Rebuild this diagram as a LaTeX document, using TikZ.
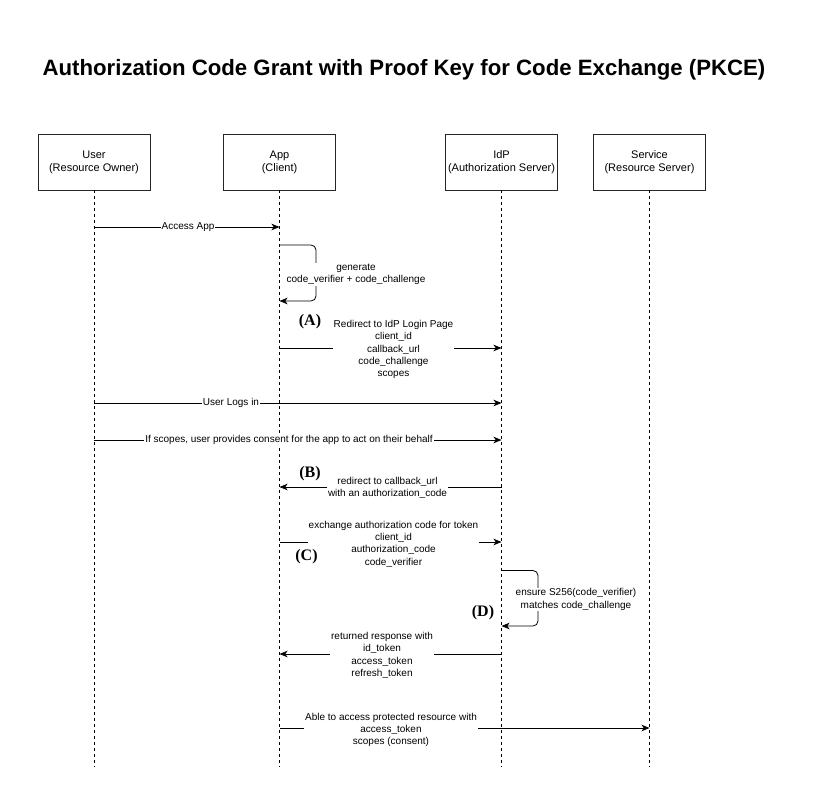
\documentclass[tikz,border=0pt]{standalone}
\usepackage{fontspec}
\setmainfont{Liberation Sans}
\newfontfamily\letterfont{Liberation Serif}
\usetikzlibrary{arrows.meta}
\begin{document}
\begin{tikzpicture}[x=1pt,y=-1pt,
  actor/.style={draw=black!85, line width=0.9pt, minimum width=112pt, minimum height=56pt,
    align=center, font=\fontsize{11}{13}\selectfont, inner sep=0pt},
  life/.style={line width=0.8pt, dash pattern=on 3pt off 3pt},
  msg/.style={line width=0.8pt, -{Stealth[length=8pt,width=6.5pt,inset=2.2pt]}},
  lbl/.style={fill=white, inner sep=1pt, align=center, font=\fontsize{10}{12.3}\selectfont},
  tag/.style={font=\letterfont\bfseries\fontsize{16}{18}\selectfont, inner sep=0pt}]
\useasboundingbox (0,0) rectangle (829,800);
\fill[white] (0,0) rectangle (829,800);

\node[font=\bfseries\fontsize{22.2}{26}\selectfont] (title) at (404,70) {Authorization Code Grant with Proof Key for Code Exchange (PKCE)};

\node[actor] (user) at (94,162) {User\\(Resource Owner)};
\node[actor] (app) at (279.5,162) {App\\(Client)};
\node[actor] (idp) at (501.5,162) {IdP\\(Authorization Server)};
\node[actor] (svc) at (649.5,162) {Service\\(Resource Server)};

\coordinate (userE) at (94,767);
\coordinate (appE) at (279.5,767);
\coordinate (idpE) at (501.5,767);
\coordinate (svcE) at (649.5,767);
\draw[life] (user.south) -- (userE);
\draw[life] (app.south) -- (appE);
\draw[life] (idp.south) -- (idpE);
\draw[life] (svc.south) -- (svcE);

% messages
\coordinate (m1a) at (94,227);   \coordinate (m1b) at (279.5,227);
\draw[msg] (m1a) -- (m1b);
\node[lbl] (l1) at (188,227) {Access App};

\coordinate (m2a) at (279.5,245); \coordinate (m2b) at (279.5,301);
\draw[msg, rounded corners=5pt] (m2a) -- (316,245) -- (316,301) -- (m2b);
\node[lbl] (l2) at (356,274.5) {generate\\code\_verifier + code\_challenge};

\node[tag] (tA) at (310,322) {(A)};
\coordinate (m3a) at (279.5,348); \coordinate (m3b) at (501.5,348);
\draw[msg] (m3a) -- (m3b);
\node[lbl] (l3) at (393.5,349.5) {Redirect to IdP Login Page\\client\_id\\callback\_url\\code\_challenge\\scopes};

\coordinate (m4a) at (94,403); \coordinate (m4b) at (501.5,403);
\draw[msg] (m4a) -- (m4b);
\node[lbl] (l4) at (231,403) {User Logs in};

\coordinate (m5a) at (94,440); \coordinate (m5b) at (501.5,440);
\draw[msg] (m5a) -- (m5b);
\node[lbl] (l5) at (289,440) {If scopes, user provides consent for the app to act on their behalf};

\node[tag] (tB) at (310,473.5) {(B)};
\coordinate (m6a) at (501.5,487); \coordinate (m6b) at (279.5,487);
\draw[msg] (m6a) -- (m6b);
\node[lbl] (l6) at (387.5,488) {redirect to callback\_url\\with an authorization\_code};

\coordinate (m7a) at (279.5,542); \coordinate (m7b) at (501.5,542);
\draw[msg] (m7a) -- (m7b);
\node[lbl] (l7) at (393.5,544) {exchange authorization code for token\\client\_id\\authorization\_code\\code\_verifier};
\node[tag] (tC) at (306.5,556.5) {(C)};

\coordinate (m8a) at (501.5,570.5); \coordinate (m8b) at (501.5,626);
\draw[msg, rounded corners=5pt] (m8a) -- (538,570.5) -- (538,626) -- (m8b);
\node[lbl] (l8) at (576,599.5) {ensure S256(code\_verifier)\\matches code\_challenge};
\node[tag] (tD) at (483,613) {(D)};

\coordinate (m9a) at (501.5,654); \coordinate (m9b) at (279.5,654);
\draw[msg] (m9a) -- (m9b);
\node[lbl] (l9) at (382,655.5) {returned response with\\id\_token\\access\_token\\refresh\_token};

\coordinate (m10a) at (279.5,728); \coordinate (m10b) at (649.5,728);
\draw[msg] (m10a) -- (m10b);
\node[lbl] (l10) at (391,730) {Able to access protected resource with\\access\_token\\scopes (consent)};
\end{tikzpicture}
\end{document}
